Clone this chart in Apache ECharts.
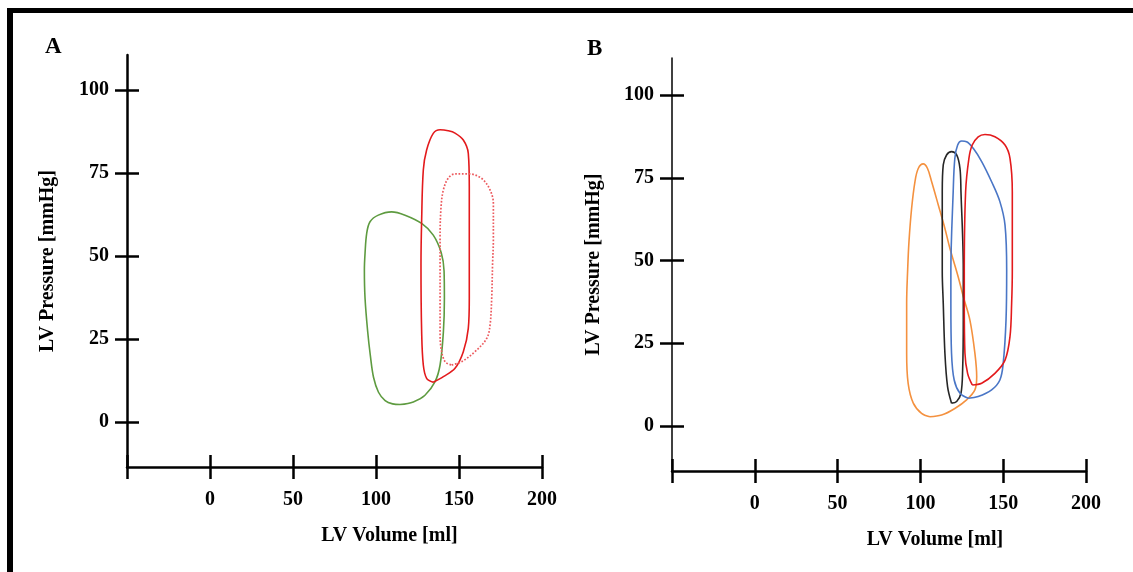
<!DOCTYPE html>
<html>
<head>
<meta charset="utf-8">
<title>LV pressure-volume loops</title>
<script src="https://cdn.jsdelivr.net/npm/echarts@6/dist/echarts.min.js"></script>
<style>
    html, body { margin: 0; padding: 0; background: #fff; }
    #main { width: 1133px; height: 572px; }
</style>
</head>
<body>
<div id="main"></div>
<script>
    // axis ticks
    const volumeTicks = [-50, 0, 50, 100, 150, 200];
    const volumeLabels = [0, 50, 100, 150, 200];
    const pressureTicks = [0, 25, 50, 75, 100];

    // panel A loops, [volume ml, pressure mmHg]
    const loopGreenA = [[114.5, 5.3], [122.5, 6.1], [129.5, 8.1], [135.5, 12.1], [138.6, 17.2], [140.6, 27.2], [141.2, 37.3], [141.0, 45.5], [139.3, 51], [134.5, 56.3], [127.5, 59.8], [117.5, 62.3], [109.4, 63.3], [101.4, 62.3], [96.4, 60.3], [94.4, 56.8], [93.4, 50.8], [93.0, 45.8], [93.4, 37.3], [95.0, 27.2], [96.6, 20.0], [98.5, 13.5], [101.5, 9.0], [105.5, 6.5], [110.0, 5.5], [114.5, 5.3]];
    const loopRedA = [[134.5, 12.0], [140.6, 13.7], [147.6, 16.2], [152.6, 21.2], [155.6, 28.2], [156.2, 37.3], [156.2, 47.3], [156.2, 60], [156.2, 70.9], [155.6, 80.9], [152.6, 84.9], [147.6, 87.0], [143.5, 87.7], [138.6, 88.0], [134.5, 86.9], [130.5, 81.9], [128.5, 75.9], [127.5, 60.8], [127.1, 47.3], [127.5, 27.2], [128.5, 17.2], [130.5, 13.2], [134.5, 12.0]];
    const loopRedDottedA = [[145.6, 17.2], [151.6, 18.2], [159.6, 21.2], [166.7, 25.2], [168.7, 29.2], [169.7, 37.3], [170.2, 47.3], [170.7, 55], [170.7, 65.9], [168.7, 69.9], [164.7, 72.9], [159.6, 74.4], [155.6, 74.7], [147.6, 74.7], [143.5, 73.4], [140.6, 69.9], [139.2, 64.9], [138.6, 55.8], [138.6, 47.3], [138.6, 37.3], [138.6, 27.2], [139.2, 22.2], [141.6, 18.2], [145.6, 17.2]];

    // panel B loops
    const loopOrangeB = [[105.7, 2.8], [112.8, 3.3], [120.8, 5.3], [127.9, 7.9], [132.9, 10.9], [134.0, 14.9], [132.9, 22.0], [129.9, 32.0], [125.9, 39.1], [122.8, 45.1], [117.8, 53.7], [114.8, 59.7], [110.8, 66.8], [106.8, 73.8], [104.3, 77.8], [101.7, 79.2], [98.7, 77.8], [96.7, 73.8], [94.7, 65.8], [93.1, 55.7], [92.3, 47.1], [91.7, 37.1], [91.7, 22.0], [92.6, 12.9], [95.7, 6.9], [100.7, 3.8], [105.7, 2.8]];
    const loopBlackB = [[118.8, 6.9], [121.9, 7.4], [124.5, 9.9], [125.5, 16.9], [125.9, 32.0], [125.9, 47.1], [124.5, 70.8], [123.9, 77.8], [121.9, 81.9], [118.8, 82.9], [115.8, 81.9], [113.8, 78.9], [113.2, 70.8], [113.2, 46.6], [113.8, 37.1], [114.8, 22.0], [116.4, 11.9], [118.8, 6.9]];
    const loopBlueB = [[128.9, 8.4], [134.9, 8.9], [143.0, 10.9], [148.0, 13.9], [150.0, 18.9], [151.7, 32.0], [152.1, 47.1], [151.1, 60.7], [148.0, 67.8], [143.0, 73.8], [137.0, 79.9], [131.9, 83.9], [127.9, 85.9], [124.9, 86.1], [122.5, 84.9], [120.8, 80.9], [119.8, 70.8], [118.4, 46.6], [118.4, 37.1], [118.8, 22.0], [120.4, 13.9], [123.9, 9.9], [128.9, 8.4]];
    const loopRedB = [[131.3, 12.4], [137.0, 12.9], [145.0, 15.9], [151.1, 19.9], [154.1, 27.0], [155.1, 37.1], [155.5, 47], [155.5, 70.8], [154.1, 80.9], [151.1, 84.9], [145.0, 87.4], [139.0, 88.1], [134.9, 87.4], [131.3, 84.9], [129.3, 80.9], [127.3, 70.8], [126.5, 46.6], [126.5, 37.1], [126.9, 22.0], [128.5, 15.9], [131.3, 12.4]];

    const font = 'Liberation Serif';
    const ink = '#000';

    // two axes per direction: one draws the line + outer ticks, the other the inner ticks
    function xAxes(grid, shift) {
        const base = {
            type: 'value', gridIndex: grid, position: 'bottom',
            min: -50, max: 200, splitLine: {show: false}
        };
        return [
            Object.assign({}, base, {
                name: 'LV Volume [ml]',
                nameLocation: 'middle',
                nameGap: 59,
                nameTextStyle: {fontFamily: font, fontWeight: 'bold', fontSize: 20, color: ink, padding: [0, 0, 0, shift]},
                axisLine: {show: true, onZero: false, lineStyle: {color: ink, width: 2.5}},
                axisTick: {show: true, inside: false, length: 12, customValues: volumeTicks, lineStyle: {color: ink, width: 2.5}},
                axisLabel: {show: true, margin: 23, customValues: volumeLabels, fontFamily: font, fontWeight: 'bold', fontSize: 20, color: ink}
            }),
            Object.assign({}, base, {
                axisLine: {show: false, onZero: false},
                axisTick: {show: true, inside: true, length: 12, customValues: volumeTicks, lineStyle: {color: ink, width: 2.5}},
                axisLabel: {show: false}
            })
        ];
    }

    function yAxes(grid, min, max, lineWidth, gap) {
        const base = {
            type: 'value', gridIndex: grid, position: 'left',
            min: min, max: max, splitLine: {show: false}
        };
        return [
            Object.assign({}, base, {
                name: 'LV Pressure [mmHg]',
                nameLocation: 'middle',
                nameGap: gap,
                nameTextStyle: {fontFamily: font, fontWeight: 'bold', fontSize: 20, color: ink},
                axisLine: {show: true, onZero: false, lineStyle: {color: ink, width: lineWidth}},
                axisTick: {show: true, inside: false, length: 12, customValues: pressureTicks, lineStyle: {color: ink, width: 2.5}},
                axisLabel: {show: true, margin: 18, customValues: pressureTicks, fontFamily: font, fontWeight: 'bold', fontSize: 20, color: ink}
            }),
            Object.assign({}, base, {
                axisLine: {show: false, onZero: false},
                axisTick: {show: true, inside: true, length: 12, customValues: pressureTicks, lineStyle: {color: ink, width: 2.5}},
                axisLabel: {show: false}
            })
        ];
    }

    function loop(data, grid, color, type) {
        return {
            type: 'line',
            xAxisIndex: grid * 2,
            yAxisIndex: grid * 2,
            data: data,
            smooth: 0.35,
            showSymbol: false,
            lineStyle: {color: color, width: type === 'dotted' ? 1.7 : 1.6, type: type || 'solid'}
        };
    }

    const chart = echarts.init(document.getElementById('main'));
    chart.setOption({
        animation: false,
        backgroundColor: '#fff',
        title: [
            {text: 'A', left: 40, top: 31, textStyle: {fontFamily: font, fontWeight: 'bold', fontSize: 23, color: ink}},
            {text: 'B', left: 582, top: 33, textStyle: {fontFamily: font, fontWeight: 'bold', fontSize: 23, color: ink}}
        ],
        graphic: [
            {type: 'rect', shape: {x: 7, y: 8, width: 1126, height: 5}, style: {fill: '#000'}},
            {type: 'rect', shape: {x: 7, y: 8, width: 6, height: 564}, style: {fill: '#000'}}
        ],
        grid: [
            {left: 127, top: 55, right: 591, bottom: 105},
            {left: 672, top: 58, right: 47, bottom: 101}
        ],
        xAxis: xAxes(0, 110).concat(xAxes(1, 112)),
        yAxis: yAxes(0, -13.5, 110.5, 2.5, 69).concat(yAxes(1, -13.6, 111.2, 1.5, 68)),
        series: [
            loop(loopGreenA, 0, '#5e9b40'),
            loop(loopRedA, 0, '#e31a1c'),
            loop(loopRedDottedA, 0, '#ec5a5e', 'dotted'),
            loop(loopOrangeB, 1, '#f4913f'),
            loop(loopBlackB, 1, '#262626'),
            loop(loopBlueB, 1, '#4a76c6'),
            loop(loopRedB, 1, '#e31a1c')
        ]
    });
</script>
</body>
</html>
